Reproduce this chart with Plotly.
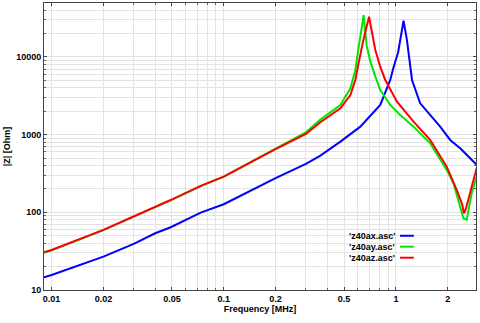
import plotly.graph_objects as go

# ---- data ----
freq_ax = [0.00903, 0.01, 0.02, 0.03, 0.04, 0.0492, 0.0735, 0.1, 0.2, 0.3, 0.364, 0.476,
           0.621, 0.811, 0.927, 0.965, 1.03, 1.107, 1.158, 1.21, 1.24, 1.383, 1.58, 1.807,
           2.065, 2.36, 2.70, 2.94]
z_ax = [14.6, 15.6, 26.9, 39.2, 53.8, 64.3, 99, 127, 275, 420, 537, 813,
        1268, 2410, 5060, 7160, 11500, 29300, 16600, 7500, 5060, 2535, 1795, 1268,
        855, 668, 497, 408]

freq_ay = [0.00903, 0.01, 0.02, 0.03, 0.04, 0.0492, 0.0735, 0.1, 0.2, 0.3, 0.364, 0.476,
           0.544, 0.581, 0.604, 0.649, 0.676, 0.708, 0.759, 0.811, 0.927, 1.059, 1.265,
           1.58, 1.972, 2.158, 2.36, 2.466, 2.576, 2.754, 2.944]
z_ay = [30.2, 32.4, 58.9, 87.1, 117, 143.5, 217.8, 288, 661, 1072, 1560, 2410,
        3950, 6810, 12300, 34600, 14100, 8900, 5620, 3760, 2410, 1795, 1268,
        774, 352, 237, 118, 84, 80, 176, 288]

freq_az = [0.00903, 0.01, 0.02, 0.03, 0.04, 0.0492, 0.0735, 0.1, 0.2, 0.3, 0.364, 0.476,
           0.544, 0.581, 0.604, 0.647, 0.698, 0.726, 0.759, 0.811, 0.867, 1.014, 1.265,
           1.58, 1.972, 2.254, 2.427, 2.483, 2.553, 2.754, 2.944]
z_az = [30.6, 32.8, 59.3, 88, 118, 144, 219, 288, 649, 1020, 1445, 2186,
        3240, 5060, 7890, 16600, 33000, 20200, 12300, 7500, 5060, 2660, 1470,
        855, 388, 194, 126, 97, 112, 214, 369]

series_names = ["'z40ax.asc'", "'z40ay.asc'", "'z40az.asc'"]
series_colors = ["#0000ff", "#00e600", "#ff0000"]

x_tick_vals = [0.01, 0.02, 0.05, 0.1, 0.2, 0.5, 1, 2]
x_tick_text = ["0.01", "0.02", "0.05", "0.1", "0.2", "0.5", "1", "2"]
y_tick_vals = [10, 100, 1000, 10000]
y_tick_text = ["10", "100", "1000", "10000"]

x_minor = [m * 10.0 ** e for e in range(-3, 1) for m in range(1, 10)]
y_minor = [m * 10.0 ** e for e in range(1, 5) for m in range(1, 10)]

fig = go.Figure()
for fx, zz, name, col in zip([freq_ax, freq_ay, freq_az], [z_ax, z_ay, z_az],
                             series_names, series_colors):
    fig.add_trace(go.Scatter(x=fx, y=zz, mode="lines", name=name,
                             line=dict(color=col, width=2), showlegend=False))

font_family = "Liberation Sans, Arial, sans-serif"
grid_col = "#e3e3e3"
axis_common = dict(
    type="log", showline=True, linecolor="#444", linewidth=1, mirror="allticks",
    ticks="inside", ticklen=3, tickcolor="#444", showgrid=True, gridcolor=grid_col,
    gridwidth=1, zeroline=False,
    tickfont=dict(family=font_family, size=9, color="#000", weight="bold"),
)
fig.update_xaxes(**axis_common, range=[-2.044, 0.465], tickmode="array",
                 tickvals=x_tick_vals, ticktext=x_tick_text,
                 minor=dict(tickmode="array", tickvals=x_minor, showgrid=True,
                            gridcolor=grid_col, ticks="inside", ticklen=2,
                            tickcolor="#666"),
                 title=dict(text="Frequency [MHz]", standoff=2,
                            font=dict(family=font_family, size=9, color="#000",
                                      weight="bold")))
fig.update_yaxes(**axis_common, range=[1, 4.695], tickmode="array",
                 tickvals=y_tick_vals, ticktext=y_tick_text,
                 minor=dict(tickmode="array", tickvals=y_minor, showgrid=True,
                            gridcolor=grid_col, ticks="inside", ticklen=2,
                            tickcolor="#666"),
                 title=dict(text="|Z| [Ohm]", standoff=4,
                            font=dict(family=font_family, size=9, color="#000",
                                      weight="bold")))

# legend drawn as text on the left, line sample on the right
legend_y = [0.189, 0.151, 0.1125]
for name, col, ly in zip(series_names, series_colors, legend_y):
    fig.add_annotation(x=0.8164, y=ly, xref="paper", yref="paper", text=name,
                       showarrow=False, xanchor="right", yanchor="middle",
                       font=dict(family=font_family, size=9, color="#000",
                                 weight="bold"))
    fig.add_shape(type="line", xref="paper", yref="paper", x0=0.824, x1=0.856,
                  y0=ly, y1=ly, line=dict(color=col, width=2))

fig.update_layout(
    width=480, height=323,
    margin=dict(l=44, r=4, t=3, b=33),
    paper_bgcolor="white", plot_bgcolor="white",
    showlegend=False,
)

fig.write_html("out.html",
               config={"displayModeBar": False},
               post_script="document.body.style.margin='0';"
                           "document.body.style.overflow='hidden';")
